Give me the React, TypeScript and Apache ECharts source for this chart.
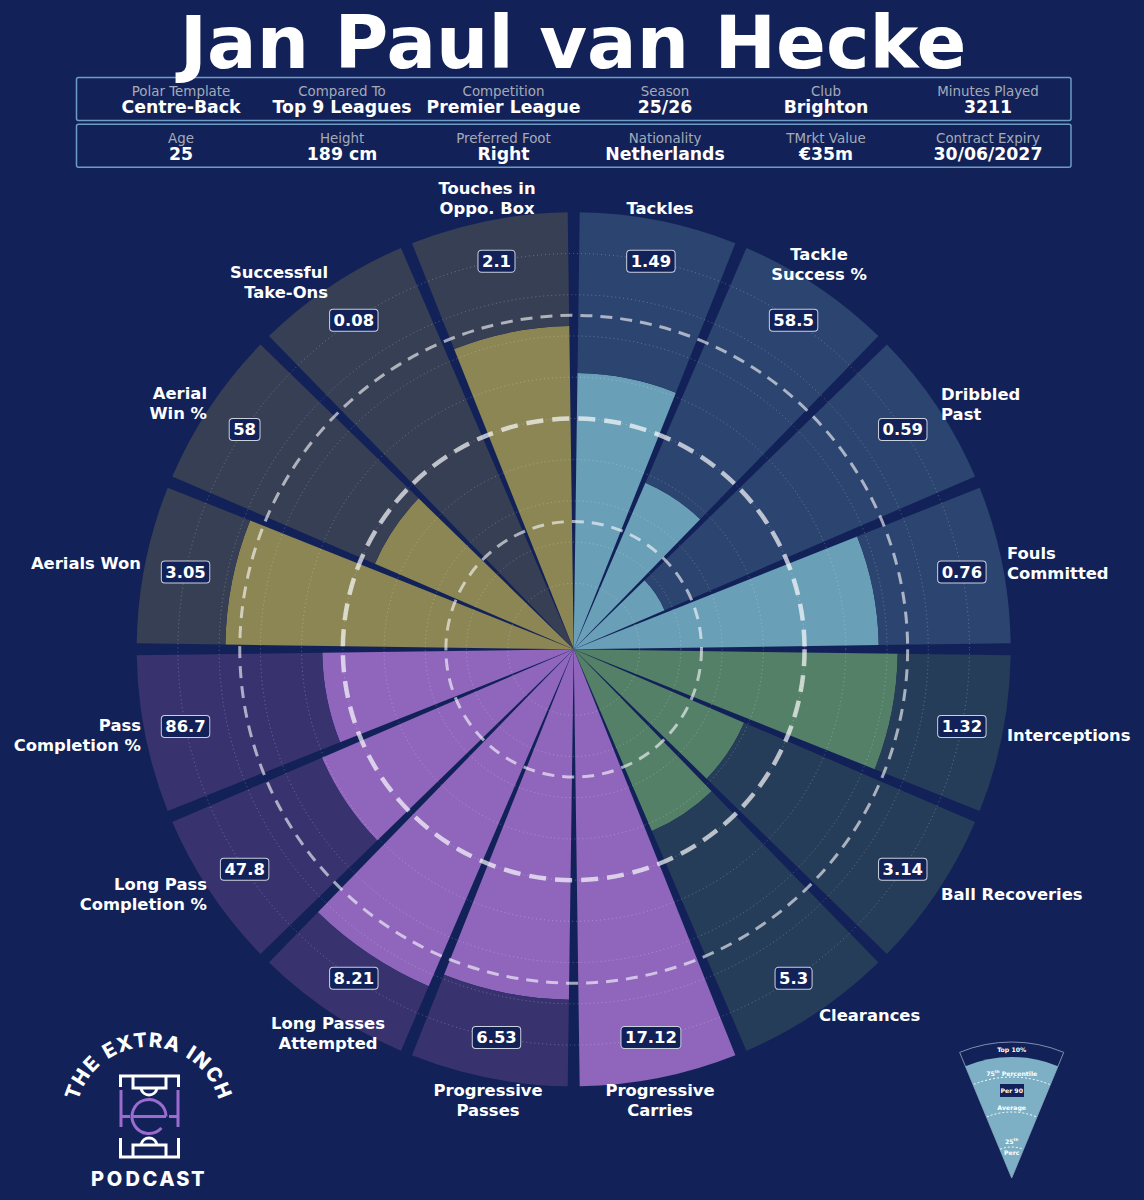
import React, { useEffect, useRef } from "react";
import * as echarts from "echarts";

const CATEGORIES = ["Tackles","Tackle Success %","Dribbled Past","Fouls Committed","Interceptions","Ball Recoveries","Clearances","Progressive Carries","Progressive Passes","Long Passes Attempted","Long Pass Completion %","Pass Completion %","Aerials Won","Aerial Win %","Successful Take-Ons","Touches in Oppo. Box"];
const PERCENTILES = [61, 38, 18, 68, 72.6, 39, 42, 100, 79, 83, 60.5, 55, 78.5, 46.5, 0, 72.4];
const PER90 = ["1.49","58.5","0.59","0.76","1.32","3.14","5.3","17.12","6.53","8.21","47.8","86.7","3.05","58","0.08","2.1"];
const GROUPS = ["b","b","b","b","g","g","g","p","p","p","p","p","y","y","y","y"];
const FILL: Record<string,string> = { b:"#6A9FB8", g:"#548068", p:"#8F66BC", y:"#8B8654" };
const BACK: Record<string,string> = { b:"#2C4470", g:"#263D5A", p:"#38336F", y:"#373F55" };
const DOTTED_RINGS = [10,20,30,40,50,60,70,80,90];
const DASHED_RINGS = [25,50,75];

const META_ROW1 = [["Polar Template","Centre-Back"],["Compared To","Top 9 Leagues"],["Competition","Premier League"],["Season","25/26"],["Club","Brighton"],["Minutes Played","3211"]];
const META_ROW2 = [["Age","25"],["Height","189 cm"],["Preferred Foot","Right"],["Nationality","Netherlands"],["TMrkt Value","€35m"],["Contract Expiry","30/06/2027"]];

const BG = "#122258";
const FONT = "DejaVu Sans";
const AXIS_OFFSET = 6;
const CX = 573.7, CY = 649.3, R = 437;
const META_X = [181, 342, 503.5, 665, 826, 988];

const CAT_TEXT: [string, number, number, string][] = [
  ["Tackles", 660, 208, "center"],
  ["Tackle\nSuccess %", 819, 264, "center"],
  ["Dribbled\nPast", 941, 404, "left"],
  ["Fouls\nCommitted", 1007, 563, "left"],
  ["Interceptions", 1007, 735, "left"],
  ["Ball Recoveries", 941, 894, "left"],
  ["Clearances", 819, 1015, "left"],
  ["Progressive\nCarries", 660, 1100, "center"],
  ["Progressive\nPasses", 488, 1100, "center"],
  ["Long Passes\nAttempted", 328, 1033, "center"],
  ["Long Pass\nCompletion %", 207, 894, "right"],
  ["Pass\nCompletion %", 141, 735, "right"],
  ["Aerials Won", 141, 563, "right"],
  ["Aerial\nWin %", 207, 403, "right"],
  ["Successful\nTake-Ons", 328, 282, "right"],
  ["Touches in\nOppo. Box", 487, 198, "center"],
];

const LOGO_ARC = "THE EXTRA INCH".split("");
const LOGO_W = [0.6,0.75,0.6,0.32,0.6,0.7,0.6,0.65,0.72,0.32,0.3,0.78,0.72,0.75];
const LOGO_WORD = "PODCAST".split("");
const LOGO_WORD_W = [15,18.5,17,17,16.5,14.5,15];

function logoElements(): any[] {
  const els: any[] = [];
  const lcx = 148.5, lcy = 1120, lr = 70;
  const total = LOGO_W.reduce((a, b) => a + b, 0);
  const span = (150 / 180) * Math.PI;
  let acc = 0;
  LOGO_ARC.forEach((ch, i) => {
    const mid = (acc + LOGO_W[i] / 2) / total;
    acc += LOGO_W[i];
    if (ch === " ") return;
    const a = -span / 2 + mid * span;
    els.push({ type: "text", x: lcx + lr * Math.sin(a), y: lcy - lr * Math.cos(a), rotation: -a,
      style: { text: ch, fill: "#fff", font: "800 20px Inter", align: "center", verticalAlign: "bottom" } });
  });
  let x = 90;
  LOGO_WORD.forEach((ch, i) => {
    els.push({ type: "text", x: x + LOGO_WORD_W[i] / 2, y: 1179, style: { text: ch, fill: "#fff", font: "800 20px Inter", align: "center", verticalAlign: "middle" } });
    x += LOGO_WORD_W[i] + 0.3;
  });
  const w = { stroke: "#fff", lineWidth: 3, fill: "none" };
  const pu = { stroke: "#9B6BD0", lineWidth: 3, fill: "none" };
  els.push({ type: "polyline", shape: { points: [[120.5,1087],[120.5,1076],[178.5,1076],[178.5,1087]] }, style: w });
  els.push({ type: "polyline", shape: { points: [[120.5,1138],[120.5,1157],[178.5,1157],[178.5,1138]] }, style: w });
  els.push({ type: "polyline", shape: { points: [[133,1076],[133,1088],[166,1088],[166,1076]] }, style: w });
  els.push({ type: "polyline", shape: { points: [[133,1157],[133,1145],[166,1145],[166,1157]] }, style: w });
  els.push({ type: "arc", shape: { cx: 149, cy: 1087, r: 8, startAngle: 0.2, endAngle: Math.PI - 0.2, clockwise: true }, style: w });
  els.push({ type: "arc", shape: { cx: 149, cy: 1146, r: 8, startAngle: Math.PI + 0.2, endAngle: -0.2, clockwise: true }, style: w });
  els.push({ type: "line", shape: { x1: 121, y1: 1090, x2: 121, y2: 1127 }, style: pu });
  els.push({ type: "line", shape: { x1: 178, y1: 1090, x2: 178, y2: 1127 }, style: pu });
  els.push({ type: "line", shape: { x1: 121, y1: 1116.5, x2: 130, y2: 1116.5 }, style: pu });
  els.push({ type: "line", shape: { x1: 169, y1: 1116.5, x2: 178, y2: 1116.5 }, style: pu });
  els.push({ type: "line", shape: { x1: 132, y1: 1116.5, x2: 166, y2: 1116.5 }, style: pu });
  els.push({ type: "arc", shape: { cx: 149, cy: 1116.5, r: 17, startAngle: 0, endAngle: 0.75, clockwise: false }, style: pu });
  return els;
}

function keyElements(): any[] {
  const cx = 1011.7, cy = 1178, half = Math.PI / 8, top = -Math.PI / 2;
  const sector = (r: number, style: any) => ({ type: "sector", shape: { cx, cy, r, r0: 0, startAngle: top - half, endAngle: top + half, clockwise: true }, style });
  const arc = (r: number) => ({ type: "arc", shape: { cx, cy, r, startAngle: top - half * 0.98, endAngle: top + half * 0.98, clockwise: true }, style: { stroke: "#fff", lineWidth: 1, lineDash: [2, 2], fill: "none" } });
  const txt = (text: string, y: number, size: number, extra: any = {}) => ({ type: "text", x: cx, y, style: { text, fill: "#fff", font: `bold ${size}px ${FONT}`, align: "center", verticalAlign: "middle", ...extra } });
  const rich = { a: { fill: "#fff", font: `bold 6.2px ${FONT}` }, b: { fill: "#fff", font: `bold 4px ${FONT}`, verticalAlign: "top", padding: [0, 0, 3, 0] } };
  return [
    sector(136, { fill: BG, stroke: "#7F8DAE", lineWidth: 1 }),
    sector(121, { fill: "#7DB0C4" }),
    arc(101), arc(66), arc(31),
    txt("Top 10%", 1049.5, 6.2),
    txt("{a|75}{b|th}{a| Percentile}", 1073, 6.2, { rich }),
    { type: "rect", shape: { x: 1000, y: 1084, width: 24, height: 13 }, style: { fill: BG } },
    txt("Per 90", 1090.5, 6.2),
    txt("Average", 1107, 6.2),
    txt("{a|25}{b|th}", 1141, 6.2, { rich }),
    txt("Perc", 1152, 6.2),
  ];
}

function metaElements(): any[] {
  const els: any[] = [];
  [[77.5, 91, 107, META_ROW1], [124.3, 138, 154, META_ROW2]].forEach(([top, ly, vy, row]: any) => {
    els.push({ type: "rect", shape: { x: 76.5, y: top, width: 994.5, height: 43, r: 2 }, style: { fill: "none", stroke: "#6C9CC4", lineWidth: 1.5 } });
    row.forEach(([lab, val]: string[], i: number) => {
      els.push({ type: "text", x: META_X[i], y: ly, style: { text: lab, fill: "#A5AAB8", font: `13.4px ${FONT}`, align: "center", verticalAlign: "middle", lineHeight: 13 } });
      els.push({ type: "text", x: META_X[i], y: vy, style: { text: val, fill: "#fff", font: `bold 17.3px ${FONT}`, align: "center", verticalAlign: "middle", lineHeight: 17 } });
    });
  });
  return els;
}

function ringRender(styleFor: (p: number) => any) {
  return (params: any, api: any) => {
    const p = api.value(0);
    const pt = api.coord([p + AXIS_OFFSET, 0]);
    const r = Math.hypot(pt[0] - params.coordSys.cx, pt[1] - params.coordSys.cy);
    return { type: "circle", shape: { cx: params.coordSys.cx, cy: params.coordSys.cy, r }, style: { fill: "none", ...styleFor(p) }, silent: true };
  };
}

const dashedStyle = (p: number) =>
  p === 50
    ? { stroke: "rgba(255,255,255,0.68)", lineWidth: 4.5, lineDash: [17, 9] }
    : { stroke: "rgba(255,255,255,0.6)", lineWidth: 3, lineDash: [12, 8] };

export default function App() {
  const ref = useRef<HTMLDivElement>(null);
  useEffect(() => {
    document.body.style.margin = "0";
    const chart = echarts.init(ref.current!, undefined, { renderer: "svg" });
    const top = 100 + AXIS_OFFSET;
    const filled = PERCENTILES.map((p) => (p > 0 ? p + AXIS_OFFSET : 0));
    const elements = [
      ...metaElements(),
      { type: "text", x: 573, y: 42, style: { text: "Jan Paul van Hecke", fill: "#fff", font: `bold 73.5px ${FONT}`, align: "center", verticalAlign: "middle" } },
      ...CAT_TEXT.map(([text, x, y, align]) => ({ type: "text", x, y, style: { text, fill: "#fff", font: `bold 16.4px ${FONT}`, align, verticalAlign: "middle", lineHeight: 20 } })),
      ...logoElements(),
      ...keyElements(),
    ].map((e, i) => ({ ...e, z: 20 }));
    chart.setOption({
      animation: false,
      backgroundColor: BG,
      polar: { center: [CX, CY], radius: R },
      angleAxis: { type: "category", data: CATEGORIES, startAngle: 90, boundaryGap: true, axisLine: { show: false }, axisTick: { show: false }, axisLabel: { show: false }, splitLine: { show: false } },
      radiusAxis: { type: "value", min: 0, max: top, axisLine: { show: false }, axisTick: { show: false }, axisLabel: { show: false }, splitLine: { show: false } },
      series: [
        { type: "bar", name: "Percentile", coordinateSystem: "polar", stack: "slice", barWidth: "93%", z: 2, silent: true,
          data: filled.map((v, i) => ({ value: v, itemStyle: { color: FILL[GROUPS[i]] } })) },
        { type: "bar", name: "Remainder", coordinateSystem: "polar", stack: "slice", barWidth: "93%", z: 2, silent: true,
          data: filled.map((v, i) => ({ value: top - v, itemStyle: { color: BACK[GROUPS[i]] } })) },
        { type: "custom", name: "Grid", coordinateSystem: "polar", z: 3, clip: false, encode: { radius: 0, angle: 1 },
          data: DOTTED_RINGS.map((p) => [p, 0]),
          renderItem: ringRender(() => ({ stroke: "rgba(255,255,255,0.27)", lineWidth: 1, lineDash: [1, 3] })) },
        { type: "custom", name: "Percentile rings", coordinateSystem: "polar", z: 4, clip: false, encode: { radius: 0, angle: 1 },
          data: DASHED_RINGS.map((p) => [p, 0]),
          renderItem: ringRender(dashedStyle) },
        { type: "scatter", name: "Per 90", coordinateSystem: "polar", z: 5, symbolSize: 1, silent: true,
          itemStyle: { color: "rgba(0,0,0,0)", opacity: 1 },
          data: PER90.map((v, i) => ({ value: [90 + AXIS_OFFSET, i], name: v })),
          label: { show: true, position: "inside", formatter: (d: any) => d.name, color: "#fff", fontFamily: FONT, fontWeight: "bold", fontSize: 16.4, backgroundColor: BG, borderColor: "#CBD0DE", borderWidth: 1, borderRadius: 3, padding: [2, 3.5, 3, 3.5] } },
      ],
      graphic: { elements },
    });
    return () => chart.dispose();
  }, []);
  return <div ref={ref} style={{ width: 1144, height: 1200 }} />;
}
